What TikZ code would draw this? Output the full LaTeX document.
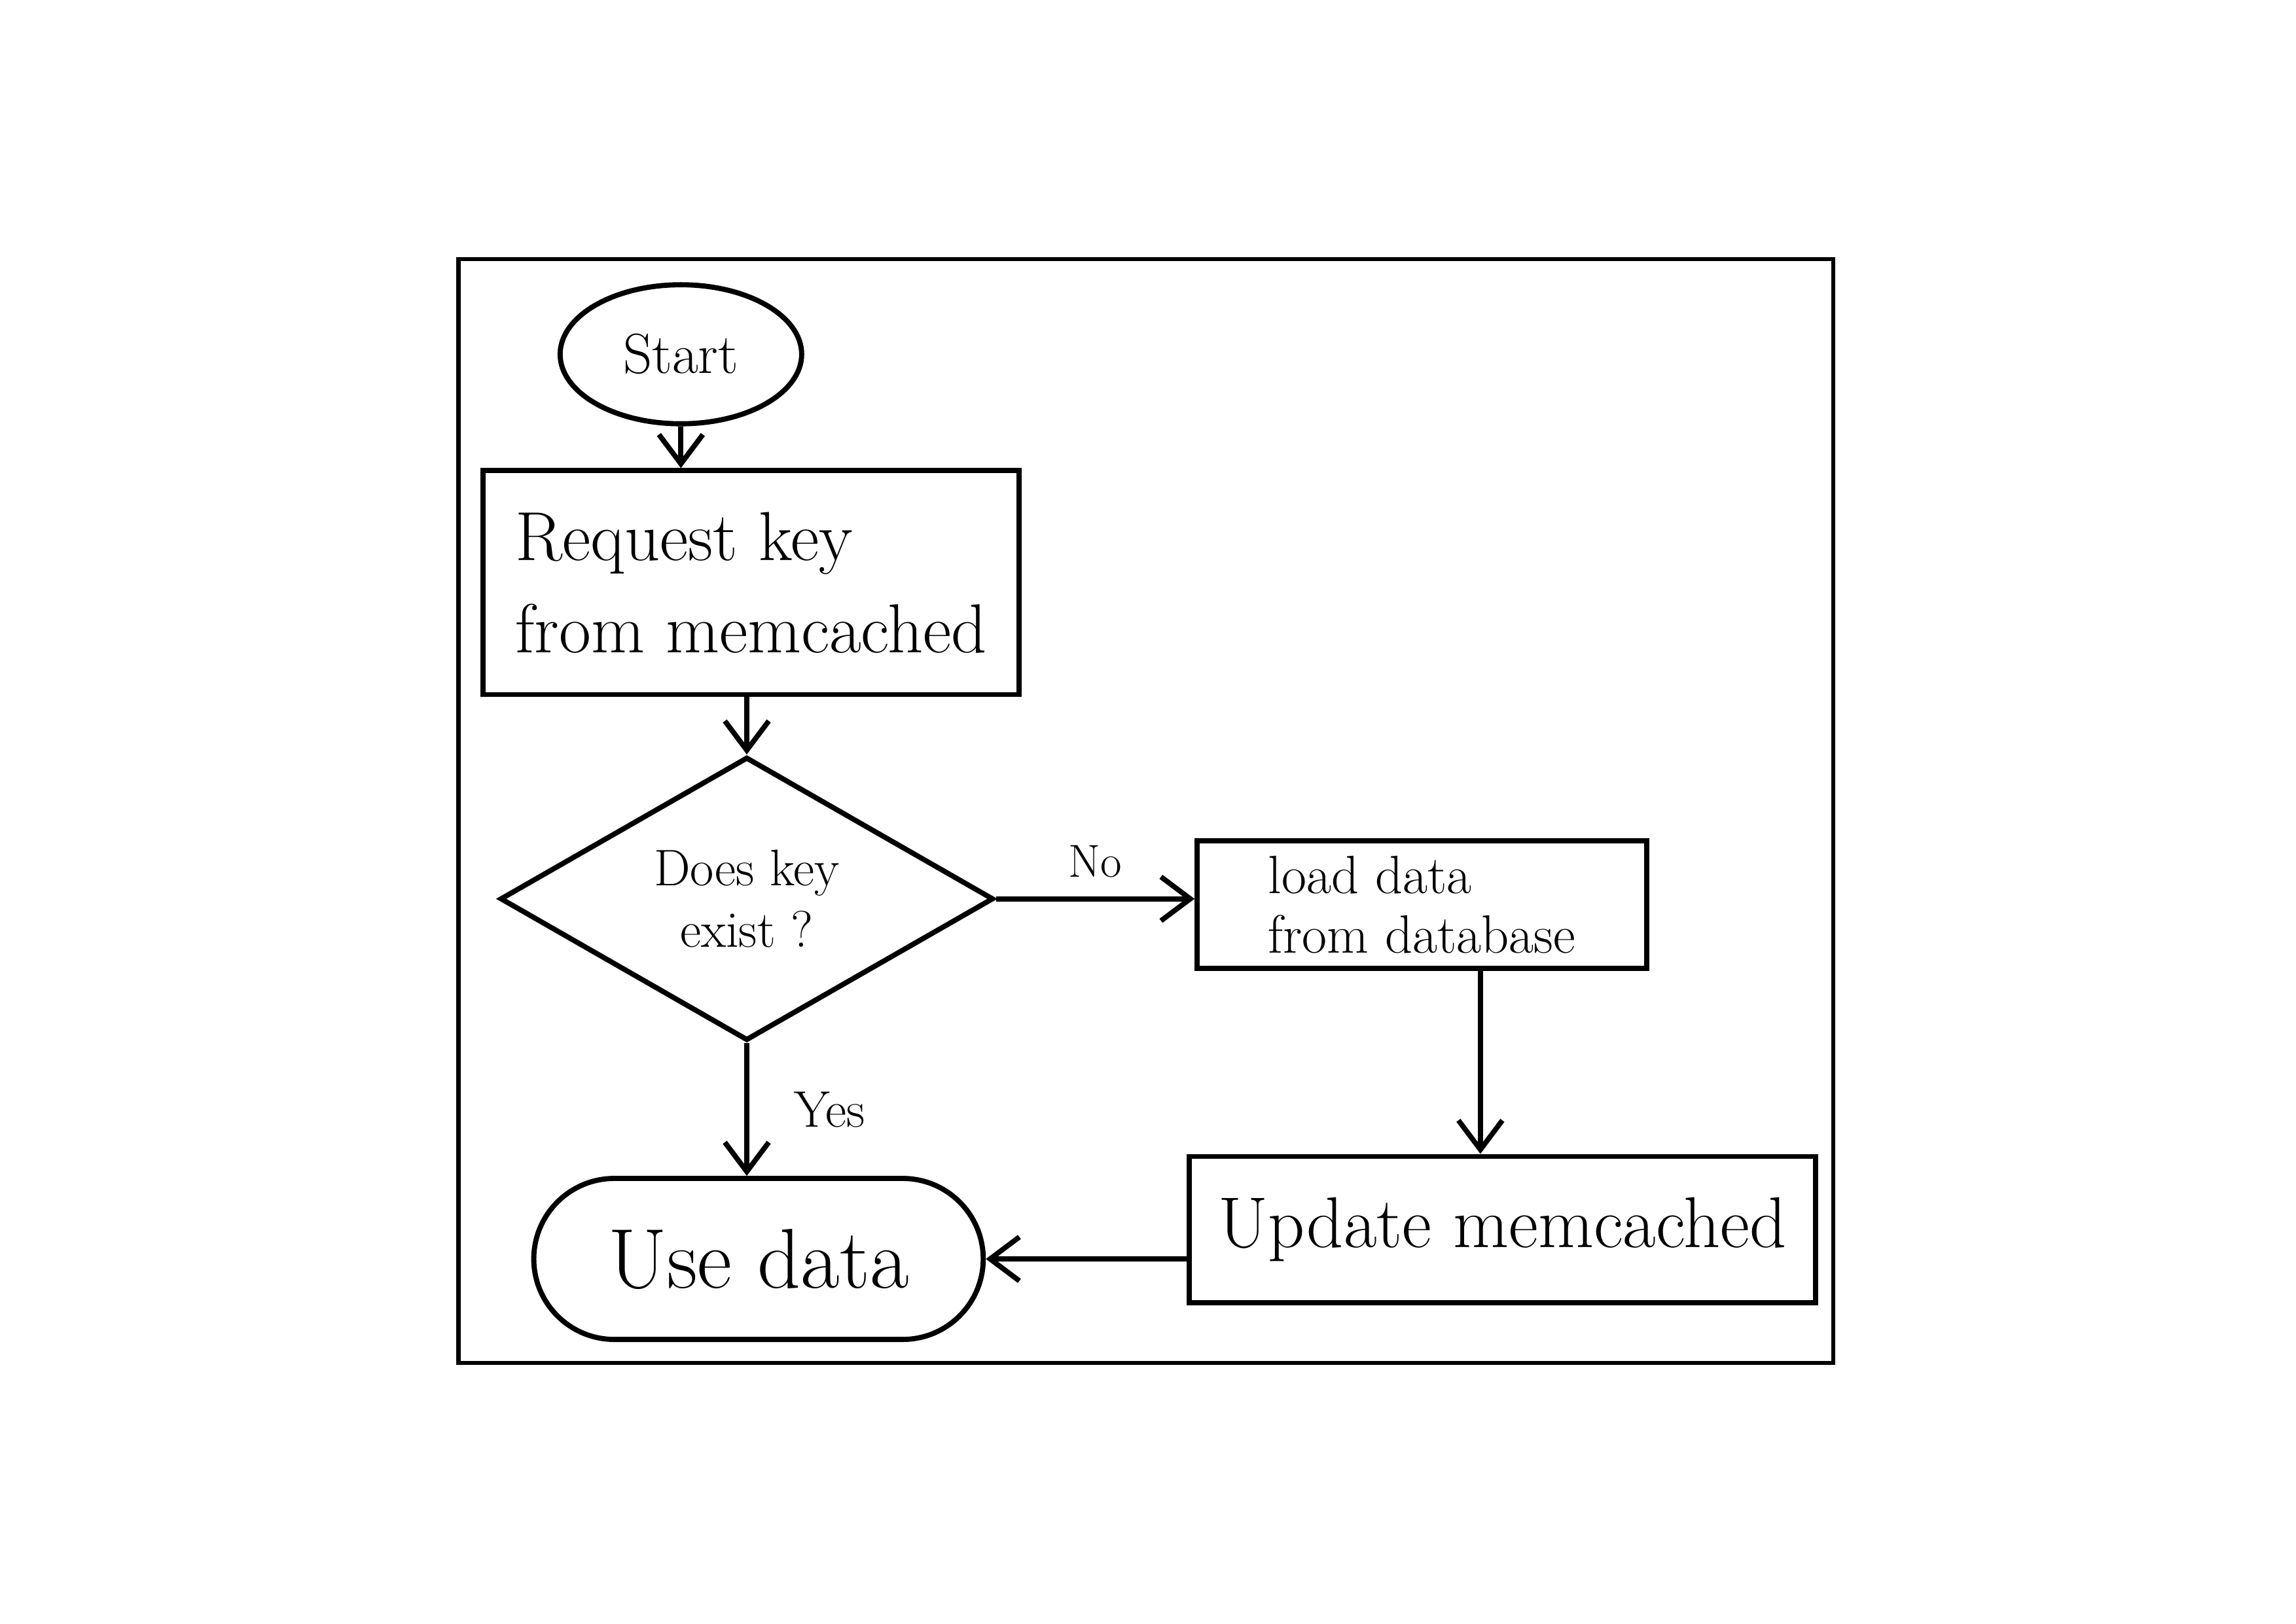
\documentclass[tikz,border=0pt]{standalone}
\usepackage{fontspec}
\usetikzlibrary{shapes.geometric,arrows.meta}

\tikzset{
  flow/.style = {draw = black, line width = 2pt, align = center},
  termin/.style = {flow, ellipse, inner sep = 0pt},
  procbox/.style = {flow, rectangle, inner sep = 4pt},
  decide/.style = {flow, diamond, inner sep = 0pt},
  arr/.style = {line width = 2pt, -{Straight Barb[length = 4mm, width = 6mm]}}
}

\begin{document}
\begin{tikzpicture}[x = 0.02cm, y = -0.02cm]
    \useasboundingbox (0, 0) rectangle (1568, 1109);
    % frame round the chart
    \draw[line width = 1.7pt] (313, 177) rectangle (1252, 931);

    % nodes
    \node[termin, minimum width = 3.3cm, minimum height = 1.9cm,
          font = \fontsize{22}{26}\selectfont] (start) at (465, 242) {Start};
    \node[procbox, minimum width = 7.32cm, minimum height = 3.06cm, align = left,
          font = \fontsize{27}{36}\selectfont] (request) at (513, 398) {Request key\\from memcached};
    \node[decide, minimum width = 6.74cm, minimum height = 3.56cm,
          font = \fontsize{20}{24}\selectfont] (exists) at (510, 614) {Does key\\exist ?};
    \node[procbox, minimum width = 6.14cm, minimum height = 1.74cm, inner sep = 2pt, align = left,
          font = \fontsize{21}{23}\selectfont] (load) at (971, 618) {load data\\from database};
    \node[procbox, minimum width = 8.56cm, minimum height = 2cm,
          font = \fontsize{28}{32}\selectfont] (update) at (1026, 840) {Update memcached};
    \node[flow, rectangle, rounded corners = 1.1cm, minimum width = 6.14cm, minimum height = 2.2cm,
          font = \fontsize{33}{37}\selectfont] (use) at (518, 860) {Use data};

    % connectors
    \draw[arr] (start.south) -- (start.south |- request.north);
    \draw[arr] (exists.north |- request.south) -- (exists.north);
    \draw[arr] (exists.east) -- (exists.east -| load.west)
        node[midway, above = 4pt, font = \fontsize{18}{22}\selectfont] (nolbl) {No};
    \draw[arr] (exists.south) -- (exists.south |- use.north)
        node[midway, right = 14pt, font = \fontsize{20}{24}\selectfont] (yeslbl) {Yes};
    \draw[arr] ([xshift = 0.8cm]load.south) -- ([xshift = 0.8cm]load.south |- update.north);
    \draw[arr] (update.west |- use.east) -- (use.east);
\end{tikzpicture}
\end{document}
